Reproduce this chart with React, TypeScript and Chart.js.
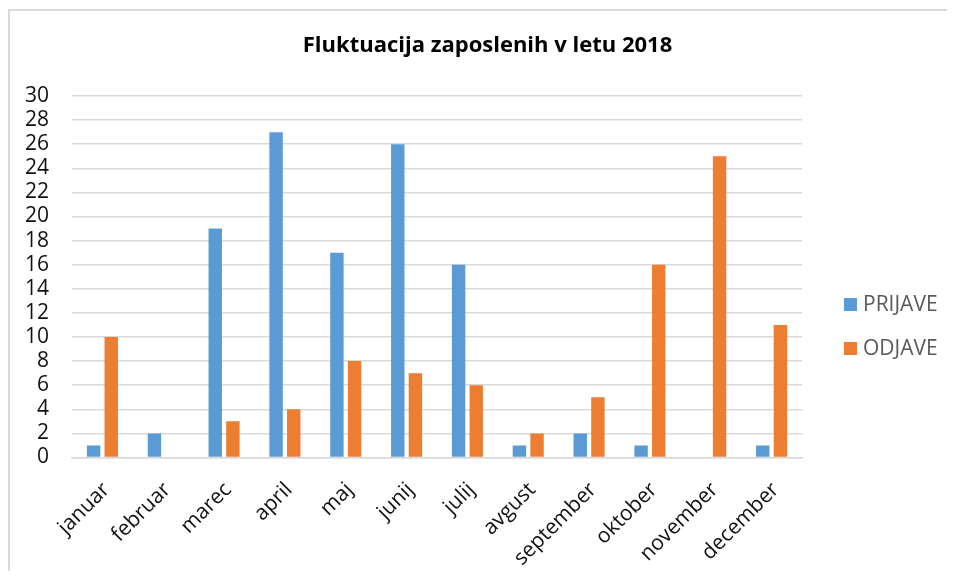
import React, { useEffect, useRef } from "react";
import { Chart, registerables } from "chart.js";

Chart.register(...registerables);

const categories = [
  "januar",
  "februar",
  "marec",
  "april",
  "maj",
  "junij",
  "julij",
  "avgust",
  "september",
  "oktober",
  "november",
  "december",
];
const prijave = [1, 2, 19, 27, 17, 26, 16, 1, 2, 1, 0, 1];
const odjave = [10, 0, 3, 4, 8, 7, 6, 2, 5, 16, 25, 11];
const seriesNames = ["PRIJAVE", "ODJAVE"];
const titleText = "Fluktuacija zaposlenih v letu 2018";
const yMin = 0;
const yMax = 30;
const yStep = 2;

const FONT = "'Open Sans', 'Noto Sans', sans-serif";

const sideLegend = {
  id: "sideLegend",
  afterDraw(chart: any) {
    const { ctx, chartArea } = chart;
    const x = chartArea.right + 42;
    let y = chartArea.top + 202;
    chart.data.datasets.forEach((ds: any) => {
      ctx.save();
      ctx.fillStyle = ds.backgroundColor;
      ctx.fillRect(x, y, 13, 13);
      ctx.fillStyle = "#595959";
      ctx.font = `21px ${FONT}`;
      ctx.textBaseline = "middle";
      ctx.textAlign = "left";
      ctx.fillText(ds.label, x + 19, y + 7);
      ctx.restore();
      y += 44;
    });
  },
};

const wideTitle = {
  id: "wideTitle",
  afterDraw(chart: any) {
    const { ctx, width } = chart;
    ctx.save();
    ctx.fillStyle = "#000";
    ctx.font = `bold 22px ${FONT}`;
    ctx.textAlign = "center";
    ctx.textBaseline = "middle";
    ctx.fillText(titleText, width / 2 + 5, 35);
    ctx.restore();
  },
};

export default function App() {
  const ref = useRef<HTMLCanvasElement>(null);

  useEffect(() => {
    if (!ref.current) return;
    const chart = new Chart(ref.current, {
      type: "bar",
      data: {
        labels: categories,
        datasets: [
          {
            label: seriesNames[0],
            data: prijave,
            backgroundColor: "#5B9BD5",
            barPercentage: 0.76,
            categoryPercentage: 0.58,
          },
          {
            label: seriesNames[1],
            data: odjave,
            backgroundColor: "#ED7D31",
            barPercentage: 0.76,
            categoryPercentage: 0.58,
          },
        ],
      },
      options: {
        responsive: false,
        animation: false,
        layout: { padding: { left: 9, right: 153, top: 85, bottom: 0 } },
        plugins: {
          legend: { display: false },
          tooltip: { enabled: false },
          title: { display: false },
        },
        scales: {
          x: {
            grid: { display: false, drawTicks: false },
            border: { display: true, color: "#d9d9d9", width: 1.5 },
            ticks: {
              color: "#111",
              font: { family: FONT, size: 21 },
              minRotation: 45,
              maxRotation: 45,
              padding: 20,
              labelOffset: 4,
              autoSkip: false,
            },
            afterFit(scale: any) {
              scale.height = 114.5;
            },
          },
          y: {
            min: yMin,
            max: yMax,
            grid: { color: "#d9d9d9", lineWidth: 1.5, drawTicks: false },
            border: { display: false },
            ticks: {
              stepSize: yStep,
              color: "#111",
              font: { family: FONT, size: 21 },
              padding: 23,
              autoSkip: false,
            },
            afterFit(scale: any) {
              scale.width = 53;
            },
          },
        },
      },
      plugins: [sideLegend, wideTitle],
    });
    return () => chart.destroy();
  }, []);

  return (
    <div
      style={{
        position: "relative",
        top: 1,
        width: 947,
        height: 563,
        boxSizing: "border-box",
        borderLeft: "2px solid #d9d9d9",
        borderTop: "2px solid #d9d9d9",
        background: "#fff",
      }}
    >
      <canvas ref={ref} width={945} height={561} style={{ display: "block" }} />
    </div>
  );
}
